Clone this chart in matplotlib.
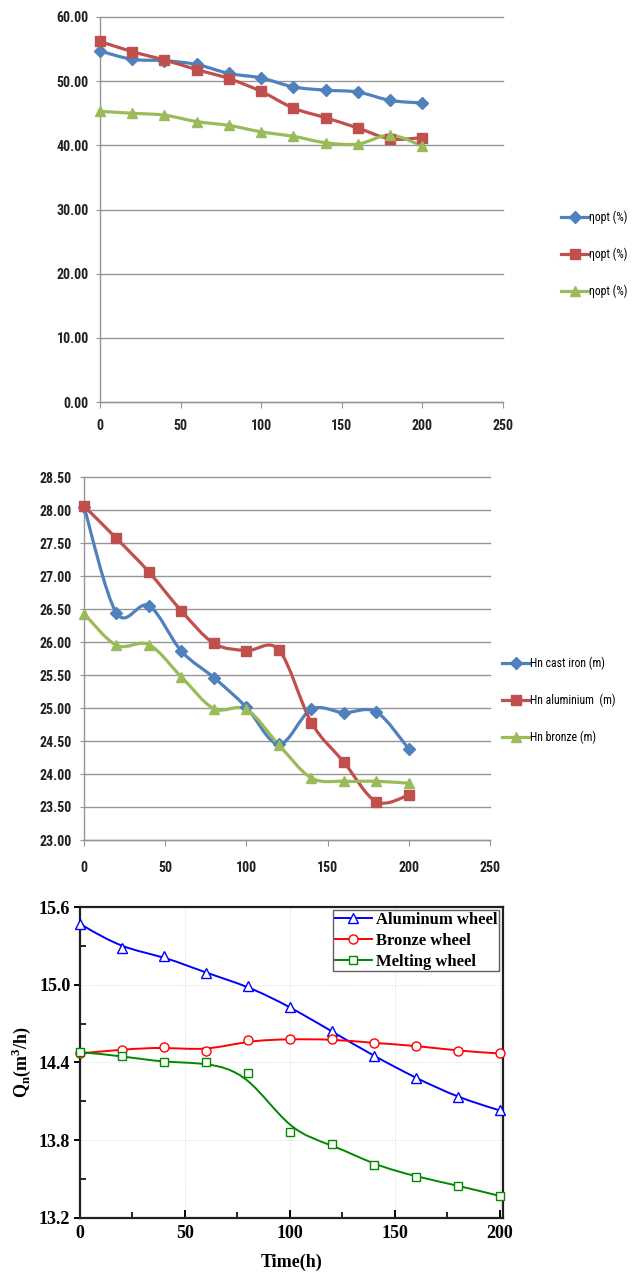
import numpy as np
import matplotlib
matplotlib.use('Agg')
import matplotlib.pyplot as plt
from matplotlib.path import Path
from matplotlib.patches import PathPatch
from matplotlib.lines import Line2D
from matplotlib import font_manager

# operating time (h)
hours = [0, 20, 40, 60, 80, 100, 120, 140, 160, 180, 200]

# optimum efficiency (%)
eta_cast_iron = [54.7, 53.4, 53.2, 52.6, 51.2, 50.5, 49.1, 48.6, 48.3, 47.0, 46.6]
eta_aluminium = [56.2, 54.6, 53.3, 51.8, 50.4, 48.4, 45.8, 44.3, 42.7, 41.0, 41.2]
eta_bronze = [45.3, 45.0, 44.7, 43.7, 43.1, 42.1, 41.4, 40.4, 40.2, 41.6, 39.9]
eta_labels = ['ηopt (%)', 'ηopt (%)', 'ηopt (%)']

# head at nominal point (m)
hn_cast_iron = [28.05, 26.44, 26.55, 25.86, 25.46, 25.01, 24.45, 24.98, 24.93, 24.94, 24.38]
hn_aluminium = [28.06, 27.57, 27.06, 26.47, 25.98, 25.87, 25.88, 24.78, 24.18, 23.58, 23.68]
hn_bronze = [26.43, 25.95, 25.96, 25.47, 24.99, 24.98, 24.44, 23.94, 23.89, 23.89, 23.86]
hn_labels = ['Hn cast iron (m)', 'Hn aluminium  (m)', 'Hn bronze (m)']

# nominal flow (m3/h)
q_aluminum = [15.47, 15.28, 15.22, 15.09, 14.99, 14.83, 14.64, 14.45, 14.28, 14.13, 14.03]
q_bronze = [14.47, 14.50, 14.52, 14.49, 14.57, 14.58, 14.58, 14.55, 14.53, 14.49, 14.47]
q_melting = [14.48, 14.45, 14.40, 14.40, 14.32, 13.86, 13.77, 13.61, 13.52, 13.45, 13.37]
q_labels = ['Aluminum wheel', 'Bronze wheel', 'Melting wheel']

# pick the narrowest sans family that is around
installed = {f.name for f in font_manager.fontManager.ttflist}
narrow_pick = [n for n in ['Liberation Sans Narrow', 'DejaVu Sans Condensed',
                           'Roboto Condensed', 'Roboto'] if n in installed]
NARROW = narrow_pick[:1] + ['DejaVu Sans']
SERIF = ['Liberation Serif', 'DejaVu Serif']
GRID = '#969696'
XL_BLUE, XL_RED, XL_GREEN = '#4f81bd', '#c0504d', '#9bbb59'

W, H = 640, 1272


def box(left, top, right, bottom):
    return [left / W, 1 - bottom / H, (right - left) / W, (bottom - top) / H]


def smooth_path(x, y):
    # excel style smoothed line: bezier through every point
    x = np.asarray(x, float)
    y = np.asarray(y, float)
    n = len(x)
    verts = [(x[0], y[0])]
    codes = [Path.MOVETO]
    for i in range(n - 1):
        a = max(i - 1, 0)
        b = min(i + 2, n - 1)
        c1 = (x[i] + (x[i + 1] - x[a]) / 6, y[i] + (y[i + 1] - y[a]) / 6)
        c2 = (x[i + 1] - (x[b] - x[i]) / 6, y[i + 1] - (y[b] - y[i]) / 6)
        verts += [c1, c2, (x[i + 1], y[i + 1])]
        codes += [Path.CURVE4] * 3
    return Path(verts, codes)


def bspline_path(x, y):
    # clamped uniform cubic b-spline using the points as control points
    q = np.column_stack([x, y]).astype(float)
    q = np.vstack([q[:1], q[:1], q, q[-1:], q[-1:]])
    verts = [tuple(q[0])]
    codes = [Path.MOVETO]
    for i in range(len(q) - 3):
        p0, p1, p2, p3 = q[i], q[i + 1], q[i + 2], q[i + 3]
        verts += [tuple((2 * p1 + p2) / 3), tuple((p1 + 2 * p2) / 3),
                  tuple((p1 + 4 * p2 + p3) / 6)]
        codes += [Path.CURVE4] * 3
    return Path(verts, codes)


def excel_axes(ax, ymin, ymax, step, xpad, ypad):
    ax.set_xlim(0, 250)
    ax.set_ylim(ymin, ymax)
    ax.set_xticks(np.arange(0, 251, 50))
    yt = np.arange(ymin, ymax + step / 2, step)
    ax.set_yticks(yt)
    ax.set_yticklabels([f'{v:.2f}' for v in yt])
    for s in ['top', 'right']:
        ax.spines[s].set_visible(False)
    for s in ['left', 'bottom']:
        ax.spines[s].set_color(GRID)
        ax.spines[s].set_linewidth(1.0)
    ax.grid(axis='y', color=GRID, lw=1.0)
    for gl in ax.get_ygridlines():
        gl.set_clip_on(False)
    ax.set_axisbelow(True)
    ax.tick_params(axis='y', length=3, color=GRID, pad=ypad)
    ax.tick_params(axis='x', length=4, color=GRID, pad=xpad)
    for lab in ax.get_xticklabels() + ax.get_yticklabels():
        lab.set_family(NARROW)
        lab.set_fontsize(10)
        lab.set_fontweight('bold')
        lab.set_color('#202020')


def excel_series(ax, x, series, labels, legend_xy):
    styles = [(XL_BLUE, 'D', 6), (XL_RED, 's', 7), (XL_GREEN, '^', 7)]
    handles = []
    for y, lab, (c, m, ms) in zip(series, labels, styles):
        ax.add_patch(PathPatch(smooth_path(x, y), facecolor='none',
                               edgecolor=c, lw=2.3, zorder=3, clip_on=False))
        ax.plot(x, y, ls='none', marker=m, ms=ms, color=c, zorder=4, clip_on=False)
        handles.append(Line2D([], [], color=c, lw=2.3, marker=m, ms=ms, label=lab))
    ax.legend(handles=handles, loc='center left', bbox_to_anchor=legend_xy,
              bbox_transform=ax.figure.transFigure, frameon=False,
              prop={'family': NARROW, 'size': 8.5}, handlelength=2.3,
              handletextpad=0.1, labelspacing=2.0, borderpad=0, borderaxespad=0)


fig = plt.figure(figsize=(6.4, 12.72), dpi=100)

# efficiency
ax1 = fig.add_axes(box(100, 17, 503, 402))
excel_axes(ax1, 0, 60, 10, xpad=8, ypad=5)
excel_series(ax1, hours, [eta_cast_iron, eta_aluminium, eta_bronze], eta_labels,
             (561 / W, 1 - 254.5 / H))

# head
ax2 = fig.add_axes(box(84, 477, 490, 840))
excel_axes(ax2, 23.0, 28.5, 0.5, xpad=11, ypad=6)
excel_series(ax2, hours, [hn_cast_iron, hn_aluminium, hn_bronze], hn_labels,
             (502 / W, 1 - 700.5 / H))

# flow
ax3 = fig.add_axes(box(80, 907, 503, 1218))
ax3.set_xlim(0, 201.5)
ax3.set_ylim(13.2, 15.6)
ax3.set_xticks(np.arange(0, 201, 50))
ax3.set_xticks(np.arange(25, 201, 50), minor=True)
ax3.set_yticks([13.2, 13.8, 14.4, 15.0, 15.6])
ax3.set_yticks([13.5, 14.1, 14.7, 15.3], minor=True)
ax3.set_yticklabels(['13.2', '13.8', '14.4', '15.0', '15.6'])
for s in ax3.spines.values():
    s.set_linewidth(1.6)
    s.set_color('#202020')
ax3.grid(which='major', color='#d8d8d8', lw=0.7, ls=':')
ax3.set_axisbelow(True)
ax3.tick_params(axis='x', which='major', direction='in', length=6, width=1.4, pad=5)
ax3.tick_params(axis='x', which='minor', direction='in', length=4, width=1.2)
ax3.tick_params(axis='y', which='major', direction='out', length=4, width=1.4, pad=3)
ax3.tick_params(axis='y', which='minor', direction='in', length=4, width=1.2)
for lab in ax3.get_xticklabels() + ax3.get_yticklabels():
    lab.set_family(SERIF)
    lab.set_fontsize(13)
    lab.set_fontweight('bold')

q_styles = [('#0000ff', '^', 7), ('#ff0000', 'o', 6.5), ('#008800', 's', 5.5)]
q_handles = []
for y, lab, (c, m, ms) in zip([q_aluminum, q_bronze, q_melting], q_labels, q_styles):
    ax3.add_patch(PathPatch(bspline_path(hours, y), facecolor='none',
                            edgecolor=c, lw=1.4, zorder=3))
    ax3.plot(hours, y, ls='none', marker=m, ms=ms, mfc='white', mec=c, mew=1.0,
             zorder=4, clip_on=False)
    q_handles.append(Line2D([], [], color=c, lw=1.4, marker=m, ms=ms, mfc='white',
                            mec=c, mew=1.0, label=lab))
leg = ax3.legend(handles=q_handles, loc='upper right',
                 bbox_to_anchor=(499 / W, 1 - 910 / H), bbox_transform=fig.transFigure,
                 prop={'family': SERIF, 'size': 12, 'weight': 'bold'},
                 handlelength=2.2, handletextpad=0.25, labelspacing=0.3,
                 borderpad=0.1, borderaxespad=0, fancybox=False, framealpha=1)
leg.get_frame().set_edgecolor('#606060')
leg.get_frame().set_linewidth(1.0)

ax3.set_xlabel('Time(h)', family=SERIF, fontsize=13, fontweight='bold')
ax3.xaxis.set_label_coords(0.5, -0.115)
ax3.set_ylabel(r'Q$_\mathregular{n}$(m$^\mathregular{3}$/h)', family=SERIF,
               fontsize=13, fontweight='bold')
ax3.yaxis.set_label_coords(-0.11, 0.5)

fig.savefig('out.png', dpi=100)
